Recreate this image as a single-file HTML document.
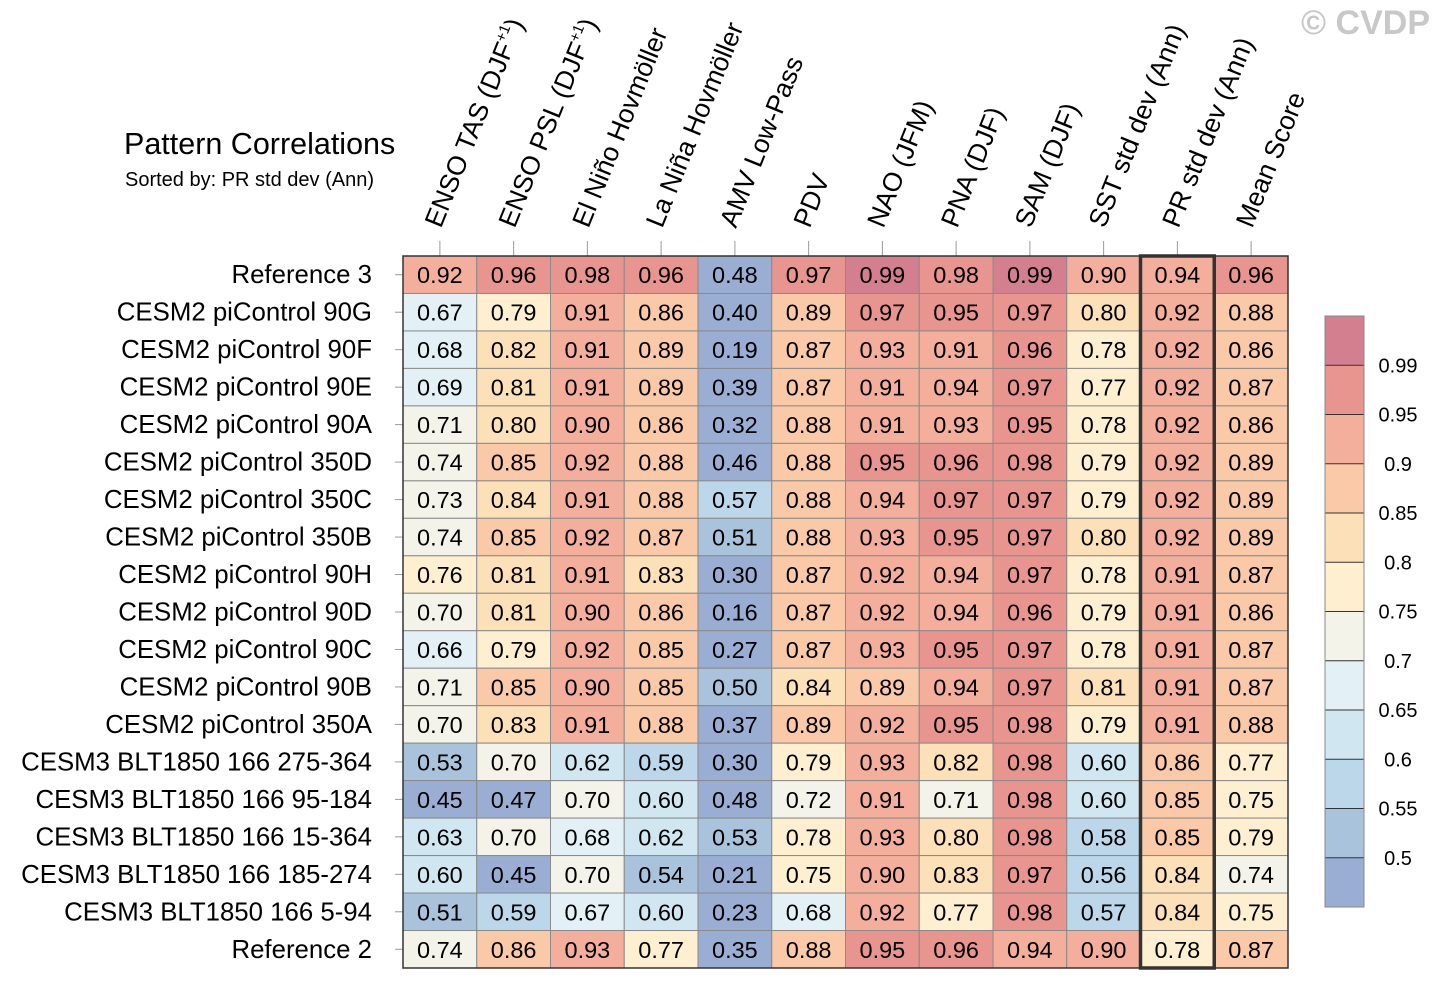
<!DOCTYPE html>
<html><head><meta charset="utf-8"><style>
html,body{margin:0;padding:0;background:#fff;}
svg{display:block;font-family:"Liberation Sans",Arial,sans-serif;}
</style></head><body>
<svg id="chart" width="1440" height="989" viewBox="0 0 1440 989" xmlns="http://www.w3.org/2000/svg">
<text x="124" y="154" font-size="30.5" fill="#000">Pattern Correlations</text>
<text x="125" y="186" font-size="20" fill="#000">Sorted by: PR std dev (Ann)</text>
<text x="1430" y="34" font-size="34" font-weight="bold" fill="#c8c8c8" text-anchor="end">© CVDP</text>
<g id="grid"></g>
<g id="cbar"></g>
</svg>
<script>
const columns=["ENSO TAS (DJF+1)","ENSO PSL (DJF+1)","El Niño Hovmöller","La Niña Hovmöller","AMV Low-Pass","PDV","NAO (JFM)","PNA (DJF)","SAM (DJF)","SST std dev (Ann)","PR std dev (Ann)","Mean Score"];
const rows=["Reference 3","CESM2 piControl 90G","CESM2 piControl 90F","CESM2 piControl 90E","CESM2 piControl 90A","CESM2 piControl 350D","CESM2 piControl 350C","CESM2 piControl 350B","CESM2 piControl 90H","CESM2 piControl 90D","CESM2 piControl 90C","CESM2 piControl 90B","CESM2 piControl 350A","CESM3 BLT1850 166 275-364","CESM3 BLT1850 166 95-184","CESM3 BLT1850 166 15-364","CESM3 BLT1850 166 185-274","CESM3 BLT1850 166 5-94","Reference 2"];
const values=[
[0.92,0.96,0.98,0.96,0.48,0.97,0.99,0.98,0.99,0.90,0.94,0.96],
[0.67,0.79,0.91,0.86,0.40,0.89,0.97,0.95,0.97,0.80,0.92,0.88],
[0.68,0.82,0.91,0.89,0.19,0.87,0.93,0.91,0.96,0.78,0.92,0.86],
[0.69,0.81,0.91,0.89,0.39,0.87,0.91,0.94,0.97,0.77,0.92,0.87],
[0.71,0.80,0.90,0.86,0.32,0.88,0.91,0.93,0.95,0.78,0.92,0.86],
[0.74,0.85,0.92,0.88,0.46,0.88,0.95,0.96,0.98,0.79,0.92,0.89],
[0.73,0.84,0.91,0.88,0.57,0.88,0.94,0.97,0.97,0.79,0.92,0.89],
[0.74,0.85,0.92,0.87,0.51,0.88,0.93,0.95,0.97,0.80,0.92,0.89],
[0.76,0.81,0.91,0.83,0.30,0.87,0.92,0.94,0.97,0.78,0.91,0.87],
[0.70,0.81,0.90,0.86,0.16,0.87,0.92,0.94,0.96,0.79,0.91,0.86],
[0.66,0.79,0.92,0.85,0.27,0.87,0.93,0.95,0.97,0.78,0.91,0.87],
[0.71,0.85,0.90,0.85,0.50,0.84,0.89,0.94,0.97,0.81,0.91,0.87],
[0.70,0.83,0.91,0.88,0.37,0.89,0.92,0.95,0.98,0.79,0.91,0.88],
[0.53,0.70,0.62,0.59,0.30,0.79,0.93,0.82,0.98,0.60,0.86,0.77],
[0.45,0.47,0.70,0.60,0.48,0.72,0.91,0.71,0.98,0.60,0.85,0.75],
[0.63,0.70,0.68,0.62,0.53,0.78,0.93,0.80,0.98,0.58,0.85,0.79],
[0.60,0.45,0.70,0.54,0.21,0.75,0.90,0.83,0.97,0.56,0.84,0.74],
[0.51,0.59,0.67,0.60,0.23,0.68,0.92,0.77,0.98,0.57,0.84,0.75],
[0.74,0.86,0.93,0.77,0.35,0.88,0.95,0.96,0.94,0.90,0.78,0.87]];
const levels=[0.5,0.55,0.6,0.65,0.7,0.75,0.8,0.85,0.9,0.95,0.99];
const levelLabels=["0.5","0.55","0.6","0.65","0.7","0.75","0.8","0.85","0.9","0.95","0.99"];
const colors=["#9aaed3","#aac3dc","#bbd7e9","#d0e6f0","#e3f1f6","#f3f3e9","#fdefd0","#fce0b8","#fac9a8","#f4af9c","#e8958f","#d47f8f"];
const highlightCol=10;

const NS="http://www.w3.org/2000/svg";
const X0=403,X1=1288,Y0=256,Y1=968;
const cw=(X1-X0)/columns.length, rh=(Y1-Y0)/rows.length;
const xPos=i=>X0+i*cw, yPos=j=>Y0+j*rh;
function colorFor(v){let k=0;for(let i=0;i<levels.length;i++){if(v>=levels[i]-1e-9)k=i+1;}return colors[k];}
function mk(tag,attrs,parent){const e=document.createElementNS(NS,tag);for(const a in attrs)e.setAttribute(a,attrs[a]);parent.appendChild(e);return e;}
const g=document.getElementById('grid');
rows.forEach((r,j)=>{
  const t=mk('text',{x:372,y:yPos(j)+rh/2+8.5,'font-size':25.8,'text-anchor':'end',fill:'#000'},g);
  t.textContent=r;
  
  
  mk('line',{x1:395,x2:X0,y1:yPos(j)+rh/2,y2:yPos(j)+rh/2,stroke:'#999','stroke-width':1},g);
  columns.forEach((c,i)=>{
    const v=values[j][i];
    const rc=mk('rect',{x:xPos(i),y:yPos(j),width:cw,height:rh,fill:colorFor(v),stroke:'#8a8a8a','stroke-width':1},g);
    
    
    const vt=mk('text',{x:xPos(i)+cw/2,y:yPos(j)+rh/2+8.5,'font-size':23.5,'text-anchor':'middle',fill:'#000'},g);
    vt.textContent=v.toFixed(2);
    
    
  });
});
columns.forEach((c,i)=>{
  const cx=xPos(i)+cw/2;
  mk('line',{x1:cx,x2:cx,y1:241,y2:Y0,stroke:'#999','stroke-width':1},g);
  const t=mk('text',{x:0,y:0,'font-size':26.5,fill:'#000',transform:`translate(${cx+1},${229}) rotate(-68)`},g);
  
  
  const m=c.match(/^(.*DJF)\+1\)$/);
  if(m){t.textContent=m[1];const s=mk('tspan',{'font-size':15,dy:-11},t);s.textContent='+1';const s2=mk('tspan',{dy:11},t);s2.textContent=')';}
  else t.textContent=c;
});
mk('rect',{x:X0,y:Y0,width:X1-X0,height:Y1-Y0,fill:'none',stroke:'#333','stroke-width':1.5},g);
const hb=mk('rect',{x:xPos(highlightCol),y:Y0,width:cw,height:Y1-Y0,fill:'none',stroke:'#333','stroke-width':3.5},g);


const cb=document.getElementById('cbar');
const CBX=1325,CBW=39,CBT=316,CBB=907,bh=(CBB-CBT)/colors.length;
colors.forEach((c,k)=>{
  const y=CBB-(k+1)*bh;
  const r=mk('rect',{x:CBX,y:y,width:CBW,height:bh,fill:c,stroke:'none'},cb);
  
  
});
levels.forEach((l,k)=>{
  const y=CBB-(k+1)*bh;
  mk('line',{x1:CBX,x2:CBX+CBW,y1:y,y2:y,stroke:'#333','stroke-width':1},cb);
  const t=mk('text',{x:1398,y:y+7,'font-size':20,'text-anchor':'middle',fill:'#000'},cb);
  t.textContent=levelLabels[k];
  
  
});
mk('rect',{x:CBX,y:CBT,width:CBW,height:CBB-CBT,fill:'none',stroke:'#888','stroke-width':1},cb);
</script>
</body></html>
